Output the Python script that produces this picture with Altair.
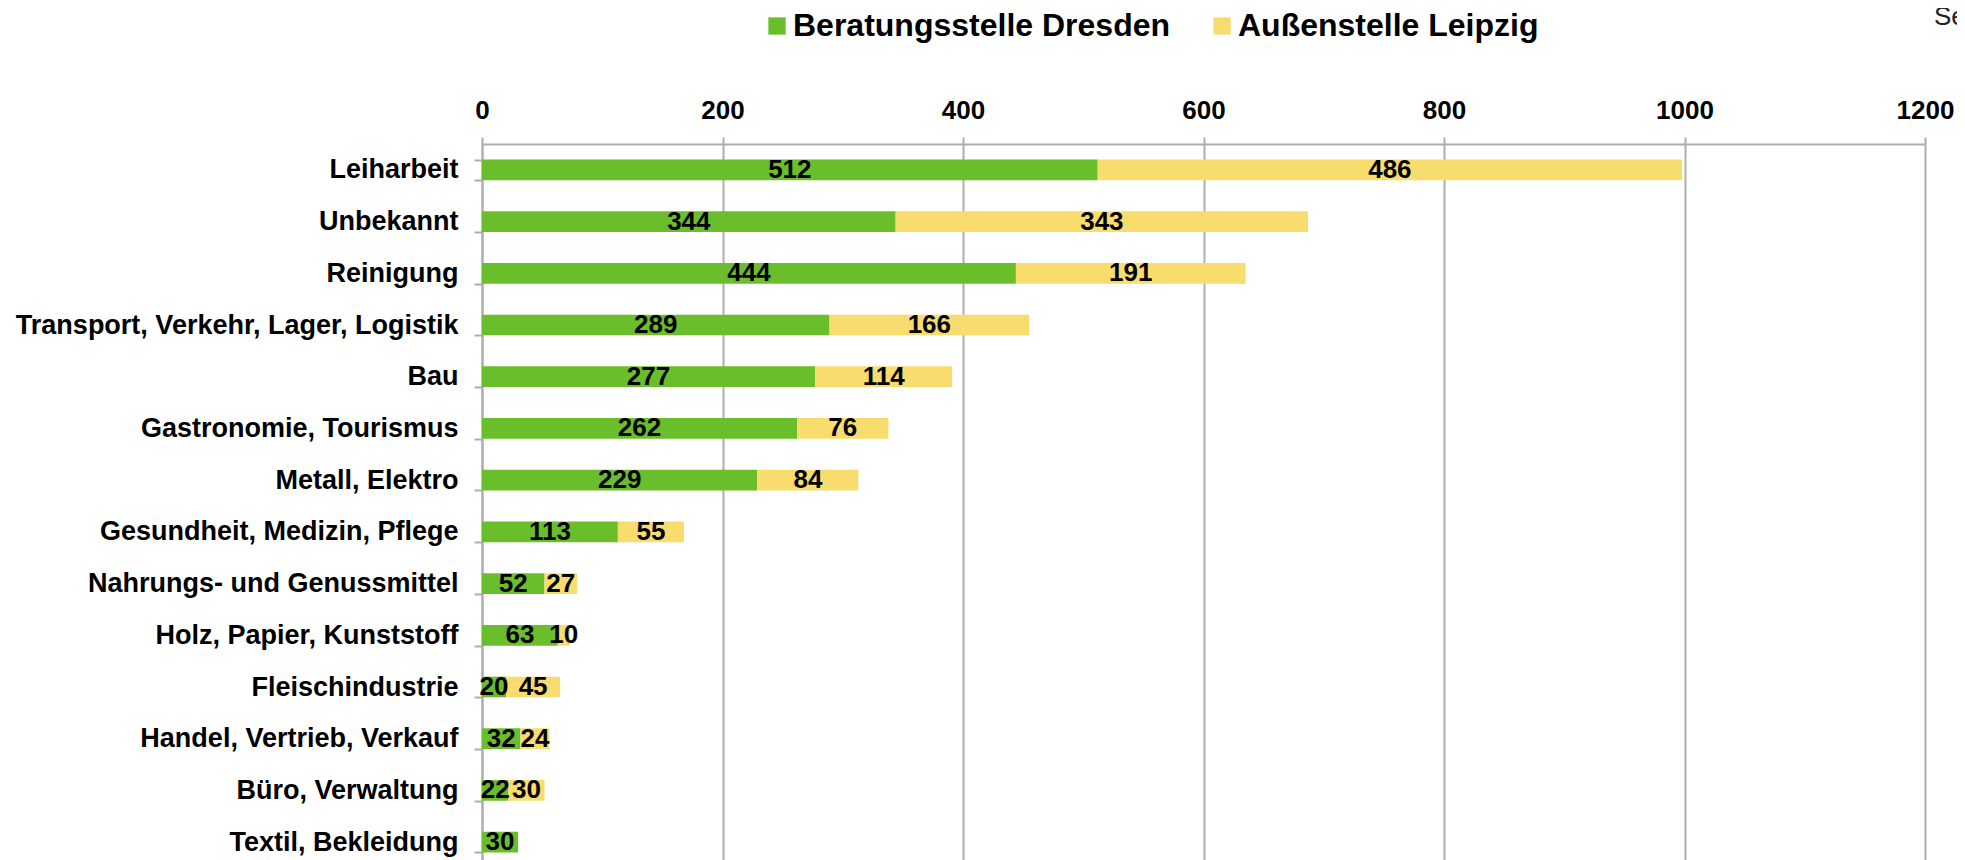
import altair as alt
import pandas as pd

categories = [
    "Leiharbeit",
    "Unbekannt",
    "Reinigung",
    "Transport, Verkehr, Lager, Logistik",
    "Bau",
    "Gastronomie, Tourismus",
    "Metall, Elektro",
    "Gesundheit, Medizin, Pflege",
    "Nahrungs- und Genussmittel",
    "Holz, Papier, Kunststoff",
    "Fleischindustrie",
    "Handel, Vertrieb, Verkauf",
    "Büro, Verwaltung",
    "Textil, Bekleidung",
]
dresden = [512, 344, 444, 289, 277, 262, 229, 113, 52, 63, 20, 32, 22, 30]
leipzig = [486, 343, 191, 166, 114, 76, 84, 55, 27, 10, 45, 24, 30, None]
series_names = ["Beratungsstelle Dresden", "Außenstelle Leipzig"]
series_colors = ["#6BBE2B", "#F8DC6E"]
x_ticks = [0, 200, 400, 600, 800, 1000, 1200]
corner_text = ["Se"]

rows = []
for i, c in enumerate(categories):
    rows.append({"cat": c, "series": series_names[0], "value": dresden[i], "order": 0})
    if leipzig[i] is not None:
        rows.append({"cat": c, "series": series_names[1], "value": leipzig[i], "order": 1})
df = pd.DataFrame(rows)

FONT = "Liberation Sans"
GRID = "#ADADAD"

y_scale = alt.Scale(paddingInner=0.6, paddingOuter=0.3)
x_scale = alt.Scale(domain=[0, 1200], nice=False)

bars = alt.Chart(df).mark_bar().encode(
    y=alt.Y(
        "cat:N",
        sort=categories,
        scale=y_scale,
        axis=alt.Axis(
            title=None,
            tickBand="extent",
            labelFont=FONT,
            labelFontWeight="bold",
            labelFontSize=27,
            labelColor="black",
            labelPadding=16,
            labelLimit=0,
            tickSize=8,
            tickColor=GRID,
            tickWidth=2,
            domainColor=GRID,
            domainWidth=2,
            grid=False,
        ),
    ),
    x=alt.X(
        "value:Q",
        stack="zero",
        scale=x_scale,
        axis=alt.Axis(
            orient="top",
            title=None,
            values=x_ticks,
            grid=True,
            gridColor=GRID,
            gridWidth=2,
            tickSize=7,
            tickColor=GRID,
            tickWidth=2,
            domainColor=GRID,
            domainWidth=2,
            labelFont=FONT,
            labelFontWeight="bold",
            labelFontSize=26,
            labelColor="black",
            labelPadding=14,
            labelFlush=False,
            format="d",
        ),
    ),
    color=alt.Color(
        "series:N",
        scale=alt.Scale(domain=series_names, range=series_colors),
        legend=alt.Legend(
            orient="none",
            legendX=279,
            legendY=-134,
            direction="horizontal",
            title=None,
            symbolType="square",
            symbolSize=300,
            symbolStrokeWidth=0,
            labelFont=FONT,
            labelFontWeight="bold",
            labelFontSize=32,
            labelColor="black",
            labelOffset=0,
            columnPadding=35,
            labelLimit=0,
        ),
    ),
    order=alt.Order("order:Q"),
)

labels = (
    alt.Chart(df)
    .transform_stack(stack="value", as_=["x0", "x1"], groupby=["cat"], sort=[alt.SortField("order")])
    .transform_calculate(mid="(datum.x0 + datum.x1) / 2")
    .mark_text(font=FONT, fontWeight="bold", fontSize=26, color="black", baseline="middle", align="center")
    .encode(
        x=alt.X("mid:Q", scale=x_scale),
        y=alt.Y("cat:N", sort=categories, scale=y_scale),
        text=alt.Text("value:Q"),
    )
)

corner = (
    alt.Chart(pd.DataFrame({"t": corner_text}))
    .mark_text(font=FONT, fontSize=26, color="#222222", align="left", baseline="alphabetic")
    .encode(x=alt.value(1452), y=alt.value(-119), text="t:N")
)

chart = (
    alt.layer(bars, labels, corner)
    .properties(
        width=1443,
        height=724,
        autosize=alt.AutoSizeParams(type="none"),
        padding={"left": 474, "top": 136, "right": 32, "bottom": -8},
    )
    .configure_view(stroke=None)
)

chart.save("out.html", embed_options={"renderer": "svg", "actions": False})
